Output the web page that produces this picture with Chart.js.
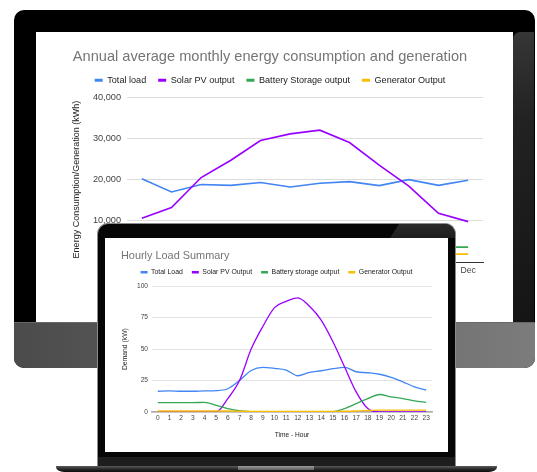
<!DOCTYPE html>
<html>
<head>
<meta charset="utf-8">
<script src="https://cdn.jsdelivr.net/npm/chart.js@4.4.0/dist/chart.umd.min.js"></script>
<style>
  html, body { margin: 0; padding: 0; background: #fff; }
  body { width: 537px; height: 472px; position: relative; overflow: hidden; }
  .abs { position: absolute; }
  #monitor { left: 14px; top: 10px; width: 521px; height: 358px; background: #000; border-radius: 10px; }
  #monitorSide { left: 513px; top: 32px; width: 21px; height: 290px; background: linear-gradient(to bottom, #363636 0%, #222 30%, #151515 100%); border-radius: 7px 0 0 0; }
  #monitorChin { left: 14px; top: 322px; width: 521px; height: 46px; background: linear-gradient(to right, #4b4b4b, #7c7c7c); border-top: 1px solid #686868; border-radius: 0 0 10px 10px; box-sizing: border-box; }
  #monitorScreen { left: 36px; top: 32px; width: 477px; height: 290px; background: #fff; }
  #lid { left: 97px; top: 223px; width: 359px; height: 234px; background: #060606; border: 1px solid #8c8c8c; border-bottom: none; border-radius: 11px 11px 0 0; box-sizing: border-box; overflow: hidden; }
  #glare { left: 292px; top: 0; width: 70px; height: 14px; background: linear-gradient(to bottom, #2a2a2a, #1e1e1e); clip-path: polygon(9px 0, 100% 0, 100% 100%, 0 100%); }
  #lidScreen { left: 105px; top: 238px; width: 343px; height: 214px; background: #fff; }
  #lip { left: 97px; top: 457px; width: 359px; height: 9px; background: #1d1d1d; border-left: 1px solid #8c8c8c; border-right: 1px solid #8c8c8c; box-sizing: border-box; }
  #base { left: 56px; top: 466px; width: 441px; height: 6px; background: linear-gradient(to bottom, #5c5c5c, #2a2a2a 50%, #0c0c0c); border-radius: 0 0 8px 8px / 0 0 5px 5px; }
  #notch { left: 238px; top: 466px; width: 76px; height: 4px; background: linear-gradient(to bottom, #9c9c9c, #5c5c5c); }
  canvas { display: block; }
</style>
</head>
<body>
<div id="monitor" class="abs"></div>
<div id="monitorSide" class="abs"></div>
<div id="monitorChin" class="abs"></div>
<div id="monitorScreen" class="abs"><canvas id="annual" width="477" height="290"></canvas></div>
<div id="lid" class="abs"><div id="glare" class="abs"></div></div>
<div id="lidScreen" class="abs"><canvas id="hourly" width="343" height="214"></canvas></div>
<div id="lip" class="abs"></div>
<div id="base" class="abs"></div>
<div id="notch" class="abs"></div>

<script>

// monthly chart (monitor)
var months = ['Jan', 'Feb', 'Mar', 'Apr', 'May', 'Jun', 'Jul', 'Aug', 'Sep', 'Oct', 'Nov', 'Dec'];
var monthlyLoad = [20200, 17000, 18800, 18600, 19300, 18200, 19100, 19500, 18550, 20000, 18600, 19850];
var monthlySolar = [10600, 13200, 20500, 24700, 29500, 31100, 32000, 29000, 23500, 18400, 11800, 9800];
var monthlyBattery = [3800, 3600, 3400, 3300, 3200, 3100, 3100, 3200, 3300, 3500, 3600, 3600];
var monthlyGenerator = [2000, 1900, 1700, 1500, 1300, 1200, 1200, 1300, 1400, 1600, 1900, 1900];
var monthlyMax = 40000;
var monthlyStep = 10000;

// hourly chart (laptop)
var hours = ['0', '1', '2', '3', '4', '5', '6', '7', '8', '9', '10', '11', '12', '13', '14', '15', '16', '17', '18', '19', '20', '21', '22', '23'];
var hourlyLoad = [16.5, 16.8, 16.5, 16.5, 16.8, 17, 18.5, 25, 33, 35.5, 34.7, 33.3, 28.8, 31.5, 32.8, 34.4, 35.5, 32, 31.2, 30, 27.5, 24, 20, 17.3];
var hourlySolar = [0, 0, 0, 0, 0, 0, 10.7, 25, 50, 68, 83, 88, 90.7, 84, 73, 56, 36, 16, 2.7, 0, 0, 0, 0, 0];
var hourlyBattery = [7.5, 7.5, 7.5, 7.5, 7.6, 5.3, 2.7, 1, 0.3, 0, 0, 0, 0, 0, 0, 0.3, 2.7, 6.7, 10.7, 13.9, 12, 10.7, 8.8, 7.7];
var hourlyGenerator = [0.8, 0.8, 0.8, 0.8, 0.8, 0.8, 0.8, 0.6, 0.5, 0.5, 0.5, 0.5, 0.5, 0.5, 0.5, 0.5, 0.6, 0.8, 1.2, 1.5, 1.5, 1.5, 1.5, 1.5];
var hourlyMax = 100;
var hourlyStep = 25;

var FONT = '"Liberation Sans", Arial, sans-serif';
Chart.defaults.font.family = FONT;

var BLUE = '#4285f4', PURPLE = '#9900ff', GREEN = '#34a853', YELLOW = '#fbbc04';

function ds(label, data, color, width, tension, order)
{
    return {
        label: label, data: data,
        borderColor: color, backgroundColor: color,
        borderWidth: width, pointRadius: 0, tension: tension,
        cubicInterpolationMode: tension ? 'monotone' : 'default',
        fill: false, order: order
    };
}

// flat legend dashes, no outline
function flatBoxes(chart)
{
    var items = Chart.defaults.plugins.legend.labels.generateLabels(chart);
    items.forEach(it => { it.lineWidth = 0; });
    items.sort((a, b) => a.datasetIndex - b.datasetIndex);
    return items;
}

// extra room under the legend
var legendGap = {
    id: 'legendGap',
    beforeLayout: function(chart, args, opts)
    {
        var legend = chart.legend;
        if (!legend || legend._gapWrapped) return;
        var fit = legend.fit;
        legend.fit = function() { fit.call(this); this.height += (opts.extra || 0); };
        legend._gapWrapped = true;
    }
};

new Chart(document.getElementById('annual'), {
    type: 'line',
    data: {
        labels: months,
        datasets: [
            ds('Total load', monthlyLoad, BLUE, 1.6, 0, 4),
            ds('Solar PV output', monthlySolar, PURPLE, 1.6, 0, 3),
            ds('Battery Storage output', monthlyBattery, GREEN, 1.6, 0, 2),
            ds('Generator Output', monthlyGenerator, YELLOW, 1.6, 0, 1)
        ]
    },
    options: {
        responsive: false, animation: false,
        layout: { padding: { left: 21, right: 30, top: 0, bottom: 0 } },
        plugins: {
            title: {
                display: true, text: 'Annual average monthly energy consumption and generation',
                color: '#757575', font: { size: 14.6, weight: 'normal', lineHeight: 1 },
                padding: { top: 17.7, bottom: -0.65 }
            },
            legend: {
                labels: { color: '#222', font: { size: 9.1 }, boxWidth: 8, boxHeight: 3, padding: 12, generateLabels: flatBoxes }
            },
            legendGap: { extra: 2.45 },
            tooltip: { enabled: false }
        },
        scales: {
            x: {
                offset: true,
                grid: { display: false, drawTicks: false },
                border: { color: '#333', width: 1 },
                ticks: { color: '#444', font: { size: 8.6 }, padding: 3.8, autoSkip: false, maxRotation: 0 },
                afterFit: s => { s.height = 60; }
            },
            y: {
                min: 0, max: monthlyMax,
                ticks: { stepSize: monthlyStep, color: '#444', font: { size: 9.2 }, padding: 6 },
                grid: { color: '#dcdcdc', drawTicks: false },
                border: { display: false },
                title: { display: true, text: 'Energy Consumption/Generation (kWh)', color: '#222', font: { size: 9 }, padding: { top: 14.6, bottom: 0 } },
                afterFit: s => { s.width = 70; }
            }
        }
    },
    plugins: [legendGap]
});

new Chart(document.getElementById('hourly'), {
    type: 'line',
    data: {
        labels: hours,
        datasets: [
            ds('Total Load', hourlyLoad, BLUE, 1.3, 0.4, 4),
            ds('Solar PV Output', hourlySolar, PURPLE, 1.3, 0.4, 3),
            ds('Battery storage output', hourlyBattery, GREEN, 1.3, 0.4, 2),
            ds('Generator Output', hourlyGenerator, YELLOW, 1.3, 0.4, 1)
        ]
    },
    options: {
        responsive: false, animation: false,
        layout: { padding: { left: 16, right: 16, top: 0, bottom: 0 } },
        plugins: {
            title: {
                display: true, text: 'Hourly Load Summary', align: 'start',
                color: '#757575', font: { size: 10.9, weight: 'normal', lineHeight: 1 },
                padding: { top: 12.55, bottom: -1.75 }
            },
            legend: {
                labels: { color: '#222', font: { size: 6.9 }, boxWidth: 7, boxHeight: 2.5, padding: 9, generateLabels: flatBoxes }
            },
            legendGap: { extra: 0.6 },
            tooltip: { enabled: false }
        },
        scales: {
            x: {
                offset: true,
                grid: { display: false, drawTicks: false },
                border: { color: '#aaa', width: 1.5 },
                ticks: { color: '#444', font: { size: 6.6 }, padding: 2, autoSkip: false, maxRotation: 0 },
                title: { display: true, text: 'Time - Hour', color: '#222', font: { size: 6.6 }, padding: { top: 0, bottom: 13 } },
                afterFit: s => { s.height = 40; }
            },
            y: {
                min: 0, max: hourlyMax,
                ticks: { stepSize: hourlyStep, color: '#444', font: { size: 6.6 }, padding: 4 },
                grid: { color: '#e3e3e3', drawTicks: false },
                border: { display: false },
                title: { display: true, text: 'Demand (kW)', color: '#222', font: { size: 6.8 }, padding: { top: 0, bottom: 0 } },
                afterFit: s => { s.width = 31; }
            }
        }
    },
    plugins: [legendGap]
});
</script>
</body>
</html>
